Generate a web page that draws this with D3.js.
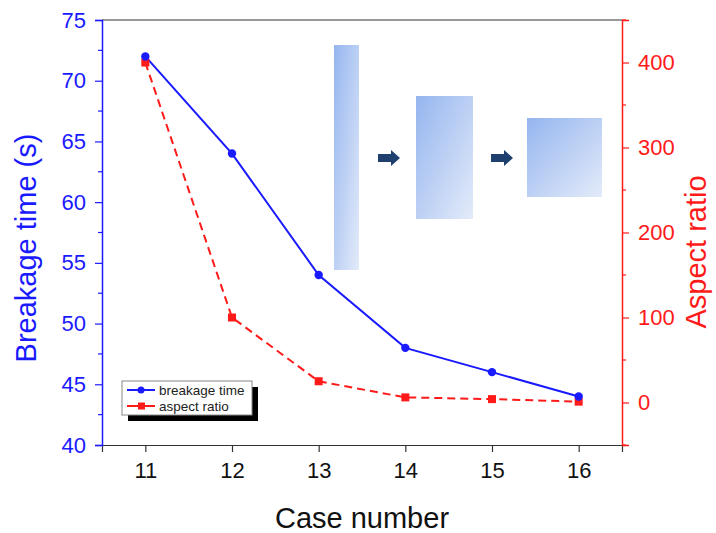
<!DOCTYPE html>
<html>
<head>
<meta charset="utf-8">
<script src="https://cdn.jsdelivr.net/npm/d3@7"></script>
<style>
  body { margin: 0; background: #fff; }
  svg { font-family: "Liberation Sans", Arial, sans-serif; }
</style>
</head>
<body>
<svg width="716" height="533"></svg>
<script>
const cases = [11, 12, 13, 14, 15, 16];
const breakageTime = [72, 64, 54, 48, 46, 44];
const aspectRatio = [400, 100, 25, 6, 4, 1];
const leftTicks = [40, 45, 50, 55, 60, 65, 70, 75];
const rightTicks = [0, 100, 200, 300, 400];

const margin = { top: 20, right: 94, bottom: 88, left: 102 };
const width = 716, height = 533;

const blue = "#1a1aff";
const red = "#ff1a1a";

const x = d3.scaleLinear().domain([10.5, 16.5]).range([margin.left, width - margin.right]);
const yL = d3.scaleLinear().domain([40, 75]).range([height - margin.bottom, margin.top]);
const yR = d3.scaleLinear().domain([-50, 450]).range([height - margin.bottom, margin.top]);

const svg = d3.select("svg");

// inset illustration (shape getting squarer)
const defs = svg.append("defs");
const grad = defs.append("linearGradient").attr("id", "rg")
  .attr("x1", "0%").attr("y1", "0%").attr("x2", "100%").attr("y2", "100%");
grad.append("stop").attr("offset", "0%").attr("stop-color", "#95b5ef");
grad.append("stop").attr("offset", "100%").attr("stop-color", "#e3ebf9");

const inset = svg.append("g");
[[334, 45, 25, 225], [416, 96, 57, 123], [527, 118, 75, 79]].forEach(r => {
  inset.append("rect").attr("x", r[0]).attr("y", r[1]).attr("width", r[2]).attr("height", r[3])
    .attr("fill", "url(#rg)");
});
[378, 491].forEach(ax => {
  inset.append("path")
    .attr("d", `M${ax},${154} h13 v-4 l9,8 l-9,8 v-4 h-13 z`)
    .attr("fill", "#1f3f6e");
});

// frame top
svg.append("line").attr("x1", margin.left).attr("x2", width - margin.right)
  .attr("y1", margin.top).attr("y2", margin.top).attr("stroke", "#333").attr("stroke-width", 1.2);

// bottom axis
const xAxis = svg.append("g")
  .attr("transform", `translate(0,${height - margin.bottom})`)
  .call(d3.axisBottom(x).tickValues(cases).tickFormat(d3.format("d")).tickSize(7).tickPadding(10));
xAxis.select(".domain").attr("stroke", "#333").attr("stroke-width", 1.2);
xAxis.selectAll(".tick line").attr("stroke", "#333").attr("stroke-width", 1.2);
xAxis.selectAll("text").attr("font-size", 22).attr("fill", "#111");

// left axis
const yAxisL = svg.append("g")
  .attr("transform", `translate(${margin.left},0)`)
  .call(d3.axisLeft(yL).tickValues(leftTicks).tickSize(7).tickPadding(9));
yAxisL.append("g").selectAll("line")
  .data(leftTicks.slice(0, -1).map(v => v + 2.5))
  .join("line").attr("x1", 0).attr("x2", -4)
  .attr("y1", d => yL(d)).attr("y2", d => yL(d)).attr("stroke", blue).attr("stroke-width", 1.2);
yAxisL.select(".domain").attr("stroke", blue).attr("stroke-width", 1.5);
yAxisL.selectAll(".tick line").attr("stroke", blue).attr("stroke-width", 1.2);
yAxisL.selectAll("text").attr("font-size", 22).attr("fill", blue);

// right axis
const yAxisR = svg.append("g")
  .attr("transform", `translate(${width - margin.right},0)`)
  .call(d3.axisRight(yR).tickValues(rightTicks).tickSize(7).tickPadding(9));
yAxisR.append("g").selectAll("line")
  .data([-50, 50, 150, 250, 350, 450])
  .join("line").attr("x1", 0).attr("x2", 4)
  .attr("y1", d => yR(d)).attr("y2", d => yR(d)).attr("stroke", red).attr("stroke-width", 1.2);
yAxisR.select(".domain").attr("stroke", red).attr("stroke-width", 1.5);
yAxisR.selectAll(".tick line").attr("stroke", red).attr("stroke-width", 1.2);
yAxisR.selectAll("text").attr("font-size", 22).attr("fill", red);

// axis titles
svg.append("text").attr("transform", "translate(36,248) rotate(-90)")
  .attr("text-anchor", "middle").attr("font-size", 29).attr("fill", blue).text("Breakage time (s)");
svg.append("text").attr("transform", "translate(706,252) rotate(-90)")
  .attr("text-anchor", "middle").attr("font-size", 29).attr("fill", red).text("Aspect ratio");
svg.append("text").attr("x", 362).attr("y", 528)
  .attr("text-anchor", "middle").attr("font-size", 29).attr("fill", "#111").text("Case number");

// series
const bt = cases.map((c, i) => ({ c, v: breakageTime[i] }));
const ar = cases.map((c, i) => ({ c, v: aspectRatio[i] }));

svg.append("path").datum(ar)
  .attr("d", d3.line().x(d => x(d.c)).y(d => yR(d.v)))
  .attr("fill", "none").attr("stroke", red).attr("stroke-width", 2).attr("stroke-dasharray", "8,5");
svg.append("path").datum(bt)
  .attr("d", d3.line().x(d => x(d.c)).y(d => yL(d.v)))
  .attr("fill", "none").attr("stroke", blue).attr("stroke-width", 2);

svg.append("g").selectAll("rect").data(ar).join("rect")
  .attr("x", d => x(d.c) - 4).attr("y", d => yR(d.v) - 4)
  .attr("width", 8).attr("height", 8).attr("fill", red);
svg.append("g").selectAll("circle").data(bt).join("circle")
  .attr("cx", d => x(d.c)).attr("cy", d => yL(d.v)).attr("r", 4.2).attr("fill", blue);

// legend
const lg = svg.append("g").attr("transform", "translate(122,381)");
lg.append("rect").attr("x", 6).attr("y", 6).attr("width", 130).attr("height", 34).attr("fill", "#000");
lg.append("rect").attr("width", 130).attr("height", 34).attr("fill", "#fff").attr("stroke", "#888");
const items = [
  { label: "breakage time", color: blue, shape: "circle" },
  { label: "aspect ratio", color: red, shape: "square" }
];
items.forEach((it, i) => {
  const yy = 9 + i * 16;
  lg.append("line").attr("x1", 5).attr("x2", 33).attr("y1", yy).attr("y2", yy)
    .attr("stroke", it.color).attr("stroke-width", 2);
  if (it.shape === "circle") {
    lg.append("circle").attr("cx", 19).attr("cy", yy).attr("r", 3.5).attr("fill", it.color);
  } else {
    lg.append("rect").attr("x", 16).attr("y", yy - 3.5).attr("width", 7).attr("height", 7).attr("fill", it.color);
  }
  lg.append("text").attr("x", 37).attr("y", yy + 4.5).attr("font-size", 13.5).attr("fill", "#222").text(it.label);
});
</script>
</body>
</html>
